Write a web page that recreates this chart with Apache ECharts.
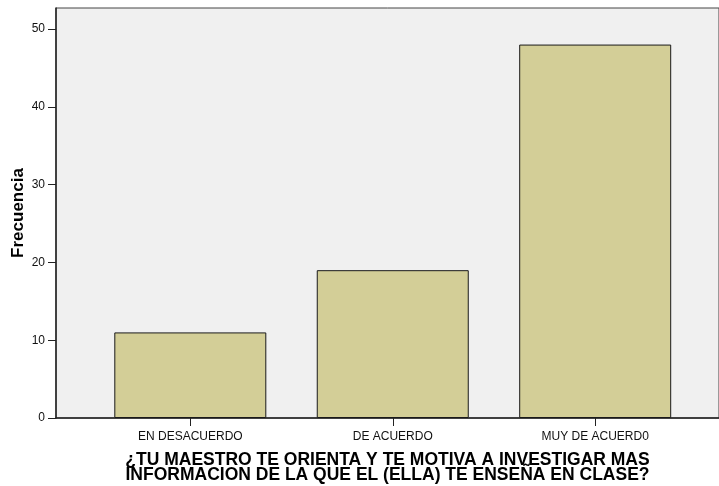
<!DOCTYPE html>
<html>
<head>
<meta charset="utf-8">
<script src="https://cdn.jsdelivr.net/npm/echarts@6/dist/echarts.min.js"></script>
<style>
  html, body { margin: 0; padding: 0; background: #fff; }
  #chart { width: 719px; height: 486px; }
</style>
</head>
<body>
<div id="chart"></div>
<script>
// datos
const categories = ['EN DESACUERDO', 'DE ACUERDO', 'MUY DE ACUERD0'];
const frecuencia = [11, 19, 48];
const yTicks = [0, 10, 20, 30, 40, 50];
const xTitle = '¿TU MAESTRO TE ORIENTA Y TE MOTIVA A INVESTIGAR MAS\nINFORMACION DE LA QUE EL (ELLA) TE ENSEÑA EN CLASE?';
const yTitle = 'Frecuencia';

const font = "'Liberation Sans', Arial, sans-serif";
const chart = echarts.init(document.getElementById('chart'));

chart.setOption({
  animation: false,
  textStyle: { fontFamily: font },
  grid: {
    left: 56, right: 0, top: 8, bottom: 68,
    outerBoundsMode: 'none',
    containLabel: false,
    show: true,
    backgroundColor: '#f0f0f0',
    borderColor: '#444',
    borderWidth: 1
  },
  xAxis: {
    type: 'value',
    min: -0.6634,
    max: 2.6115,
    name: xTitle,
    nameLocation: 'middle',
    nameGap: 35,
    nameMoveOverlap: false,
    nameTextStyle: { fontFamily: font, fontSize: 17.5, fontWeight: 'bold', color: '#000', lineHeight: 15 },
    axisLine: { show: true, onZero: false, lineStyle: { color: '#222', width: 1.5 } },
    axisTick: { show: true, length: 8, lineStyle: { color: '#222' }, customValues: [0, 1, 2] },
    axisLabel: {
      customValues: [0, 1, 2],
      margin: 13,
      fontSize: 12,
      color: '#111',
      formatter: v => categories[Math.round(v)]
    },
    splitLine: { show: false }
  },
  yAxis: {
    type: 'value',
    min: 0,
    max: 52.7,
    name: yTitle,
    nameLocation: 'middle',
    nameGap: 29,
    nameMoveOverlap: false,
    nameTextStyle: { fontFamily: font, fontSize: 17, fontWeight: 'bold', color: '#000' },
    axisLine: { show: true, onZero: false, lineStyle: { color: '#222', width: 1.5 } },
    axisTick: { show: true, length: 8, lineStyle: { color: '#222' }, customValues: yTicks },
    axisLabel: { customValues: yTicks, margin: 11, fontSize: 12, color: '#111' },
    splitLine: { show: false }
  },
  series: [{
    type: 'bar',
    barWidth: 152,
    data: frecuencia.map((v, i) => [i, v]),
    itemStyle: { color: '#d3ce97', borderColor: '#1a1a1a', borderWidth: 1 }
  }]
});
</script>
</body>
</html>
